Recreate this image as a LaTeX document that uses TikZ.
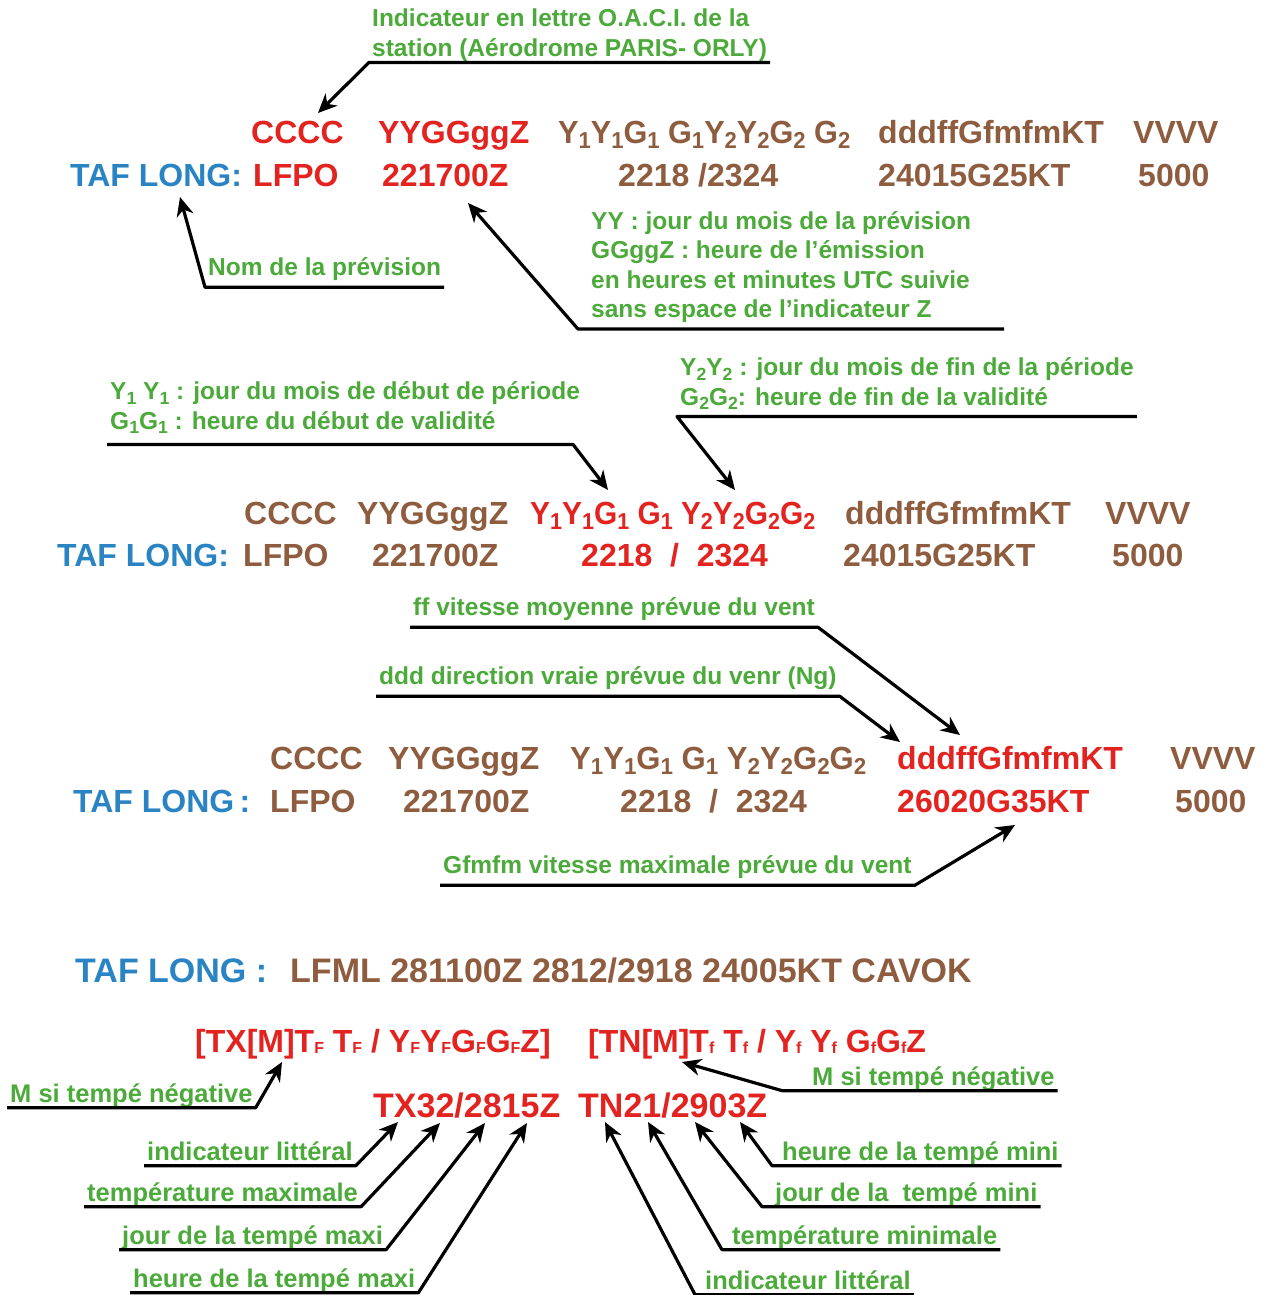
\documentclass[tikz,border=0pt]{standalone}
\usepackage{fontspec}
\setmainfont{Liberation Sans}
\usetikzlibrary{arrows.meta, positioning}
\definecolor{tafblue}{HTML}{2A84C4}
\definecolor{tafred}{HTML}{E2231F}
\definecolor{tafbrown}{HTML}{8E5D3F}
\definecolor{tafgreen}{HTML}{4BAA3A}
\newcommand{\ix}[1]{\raisebox{-0.35ex}{\scalebox{0.72}{#1}}}
\newcommand{\lo}[1]{\raisebox{-0.1ex}{\scalebox{0.5}{#1}}}
\newcommand{\narrow}[2]{\scalebox{#1}[1]{#2}}
\tikzset{
  tafname/.style = {font=\bfseries\fontsize{32}{34}\selectfont, text=tafblue,
                    inner sep=0pt, anchor=base west},
  tafcode/.style = {tafname, text=tafbrown},
  tafkey/.style  = {tafname, text=tafred},
  tafbig/.style  = {font=\bfseries\fontsize{34}{36}\selectfont},
  tafnote/.style = {font=\bfseries\fontsize{24.5}{29.5}\selectfont, text=tafgreen,
                    align=left, inner xsep=3pt, inner ysep=9pt, anchor=west,
                    text depth=0.22em},
  tafnotelow/.style = {tafnote, font=\bfseries\fontsize{25.5}{29}\selectfont,
                    inner ysep=3pt},
  tafarr/.style  = {draw=black, line width=3.2pt, line join=round,
                    -{Stealth[length=19pt, width=17pt, inset=6pt]}},
}

\begin{document}
\begin{tikzpicture}[x=1pt, y=-1pt]
\useasboundingbox (0,0) rectangle (1276,1295);

% ---- bloc 1 : station et date
\node[tafkey]  (k1-c)   at (251,143) {CCCC};
\node[tafkey]  (k1-d)   at (378,143) {YYGGggZ};
\node[tafcode] (k1-v)   at (558,143) {\narrow{0.957}{Y\ix{1}Y\ix{1}G\ix{1} G\ix{1}Y\ix{2}Y\ix{2}G\ix{2} G\ix{2}}};
\node[tafcode] (k1-w)   at (878,143) {dddffGfmfmKT};
\node[tafcode] (k1-vis) at (1133,143) {VVVV};
\node[tafname] (taf1)   at (70,186)  {TAF LONG:};
\node[tafkey]  (v1-c)   at (253,186) {LFPO};
\node[tafkey]  (v1-d)   at (382,186) {221700Z};
\node[tafcode] (v1-v)   at (618,186) {2218 /2324};
\node[tafcode] (v1-w)   at (878,186) {24015G25KT};
\node[tafcode] (v1-vis) at (1138,186) {5000};

\node[tafnote, inner ysep=4pt] (n-oaci) at (369,33.5) {Indicateur en lettre O.A.C.I. de la\\station (Aérodrome PARIS- ORLY)};
\node[tafnote] (n-nom)  at (205,268) {Nom de la prévision};
\node[tafnote] (n-yy)   at (588,265.5) {YY : jour du mois de la prévision\\GGggZ : heure de l’émission\\en heures et minutes UTC suivie\\sans espace de l’indicateur Z};

\coordinate (t-cccc) at (318,113);
\coordinate (t-taf1) at (180,197);
\coordinate (t-date) at (468,203);
\draw[tafarr] (n-oaci.south east) -- (n-oaci.south west) -- (t-cccc);
\draw[tafarr] (n-nom.south east) -- (n-nom.south west) -- (t-taf1);
\draw[tafarr] ([xshift=30pt]n-yy.south east) -- ([xshift=-10pt]n-yy.south west) -- (t-date);

% ---- bloc 2 : periode de validite
\node[tafcode] (k2-c)   at (244,524) {CCCC};
\node[tafcode] (k2-d)   at (357,524) {YYGGggZ};
\node[tafkey]  (k2-v)   at (530,524) {\narrow{0.934}{Y\ix{1}Y\ix{1}G\ix{1} G\ix{1} Y\ix{2}Y\ix{2}G\ix{2}G\ix{2}}};
\node[tafcode] (k2-w)   at (845,524) {dddffGfmfmKT};
\node[tafcode] (k2-vis) at (1105,524) {VVVV};
\node[tafname] (taf2)   at (57,566)  {TAF LONG:};
\node[tafcode] (v2-c)   at (243,566) {LFPO};
\node[tafcode] (v2-d)   at (372,566) {221700Z};
\node[tafkey]  (v2-v)   at (581,566) {2218 \ / \ 2324};
\node[tafcode] (v2-w)   at (843,566) {24015G25KT};
\node[tafcode] (v2-vis) at (1112,566) {5000};

\node[tafnote, inner ysep=13pt] (n-debut) at (107,406.5) {Y\ix{1} Y\ix{1} : jour du mois de début de période\\G\ix{1}G\ix{1} : heure du début de validité};
\node[tafnote] (n-fin)   at (677,382.5) {Y\ix{2}Y\ix{2} : jour du mois de fin de la période\\G\ix{2}G\ix{2}: heure de fin de la validité};

\coordinate (t-debut) at (608,490);
\coordinate (t-fin)   at (735,490);
\draw[tafarr] (n-debut.south west) -- ([xshift=-10pt]n-debut.south east) -- (t-debut);
\draw[tafarr] (n-fin.south east) -- (n-fin.south west) -- (t-fin);

% ---- bloc 3 : vent
\node[tafcode] (k3-c)   at (270,769) {CCCC};
\node[tafcode] (k3-d)   at (388,769) {YYGGggZ};
\node[tafcode] (k3-v)   at (570,769) {\narrow{0.97}{Y\ix{1}Y\ix{1}G\ix{1} G\ix{1} Y\ix{2}Y\ix{2}G\ix{2}G\ix{2}}};
\node[tafkey]  (k3-w)   at (897,769) {dddffGfmfmKT};
\node[tafcode] (k3-vis) at (1170,769) {VVVV};
\node[tafname] (taf3)   at (73,812)  {TAF LONG\,:};
\node[tafcode] (v3-c)   at (270,812) {LFPO};
\node[tafcode] (v3-d)   at (403,812) {221700Z};
\node[tafcode] (v3-v)   at (620,812) {2218 \ / \ 2324};
\node[tafkey]  (v3-w)   at (897,812) {26020G35KT};
\node[tafcode] (v3-vis) at (1175,812) {5000};

\node[tafnote] (n-ff)   at (410,608) {ff vitesse moyenne prévue du vent};
\node[tafnote] (n-ddd)  at (376,677) {ddd direction vraie prévue du venr (Ng)};
\node[tafnote] (n-gust) at (440,866) {Gfmfm vitesse maximale prévue du vent};

\coordinate (t-ff)   at (960,735);
\coordinate (t-ddd)  at (900,742);
\coordinate (t-gust) at (1015,825);
\draw[tafarr] (n-ff.south west) -- (n-ff.south east) -- (t-ff);
\draw[tafarr] (n-ddd.south west) -- (n-ddd.south east) -- (t-ddd);
\draw[tafarr] (n-gust.south west) -- (n-gust.south east) -- (t-gust);

% ---- bloc 4 : temperatures
\node[tafname, tafbig] (taf4) at (75,982)  {TAF LONG :};
\node[tafcode, tafbig] (msg4) at (290,982) {LFML 281100Z 2812/2918 24005KT CAVOK};
\node[tafkey]  (fx)   at (195,1052) {[TX[M]T\lo{F} T\lo{F} / Y\lo{F}Y\lo{F}G\lo{F}G\lo{F}Z]};
\node[tafkey]  (fn)   at (588,1052) {[TN[M]T\lo{f} T\lo{f} / Y\lo{f} Y\lo{f} G\lo{f}G\lo{f}Z};
\node[tafkey, tafbig] (ex) at (373,1117) {TX32/2815Z};
\node[tafkey, tafbig] (en) at (578,1117) {TN21/2903Z};

\node[tafnotelow] (m-x)  at (7,1094)    {M si tempé négative};
\node[tafnotelow] (m-n)  at (809,1077)  {M si tempé négative};
\node[tafnotelow] (ix-x) at (144,1152)  {indicateur littéral};
\node[tafnotelow] (tx)   at (84,1193)   {température maximale};
\node[tafnotelow] (jx)   at (119,1236)  {jour de la tempé maxi};
\node[tafnotelow] (hx)   at (130,1279)  {heure de la tempé maxi};
\node[tafnotelow] (hn)   at (779,1152)  {heure de la tempé mini};
\node[tafnotelow] (jn)   at (772,1193)  {jour de la \ tempé mini};
\node[tafnotelow] (tn)   at (729,1236)  {température minimale};
\node[tafnotelow] (ix-n) at (702,1281)  {indicateur littéral};

\coordinate (t-mx)  at (282,1062);
\coordinate (t-mn)  at (682,1062);
\coordinate (t-ixx) at (398,1122);
\coordinate (t-tx)  at (440,1123);
\coordinate (t-jx)  at (485,1123);
\coordinate (t-hx)  at (527,1123);
\coordinate (t-hn)  at (740,1122);
\coordinate (t-jn)  at (695,1122);
\coordinate (t-tn)  at (648,1122);
\coordinate (t-ixn) at (605,1122);
\draw[tafarr] (m-x.south west) -- (m-x.south east) -- (t-mx);
\draw[tafarr] (m-n.south east) -- ([xshift=-27pt]m-n.south west) -- (t-mn);
\draw[tafarr] (ix-x.south west) -- (ix-x.south east) -- (t-ixx);
\draw[tafarr] (tx.south west) -- (tx.south east) -- (t-tx);
\draw[tafarr] (jx.south west) -- (jx.south east) -- (t-jx);
\draw[tafarr] (hx.south west) -- (hx.south east) -- (t-hx);
\draw[tafarr] (hn.south east) -- ([xshift=-7pt]hn.south west) -- (t-hn);
\draw[tafarr] (jn.south east) -- ([xshift=-10pt]jn.south west) -- (t-jn);
\draw[tafarr] (tn.south east) -- ([xshift=-7pt]tn.south west) -- (t-tn);
\draw[tafarr] (ix-n.south east) -- ([xshift=-7pt]ix-n.south west) -- (t-ixn);
\end{tikzpicture}
\end{document}
